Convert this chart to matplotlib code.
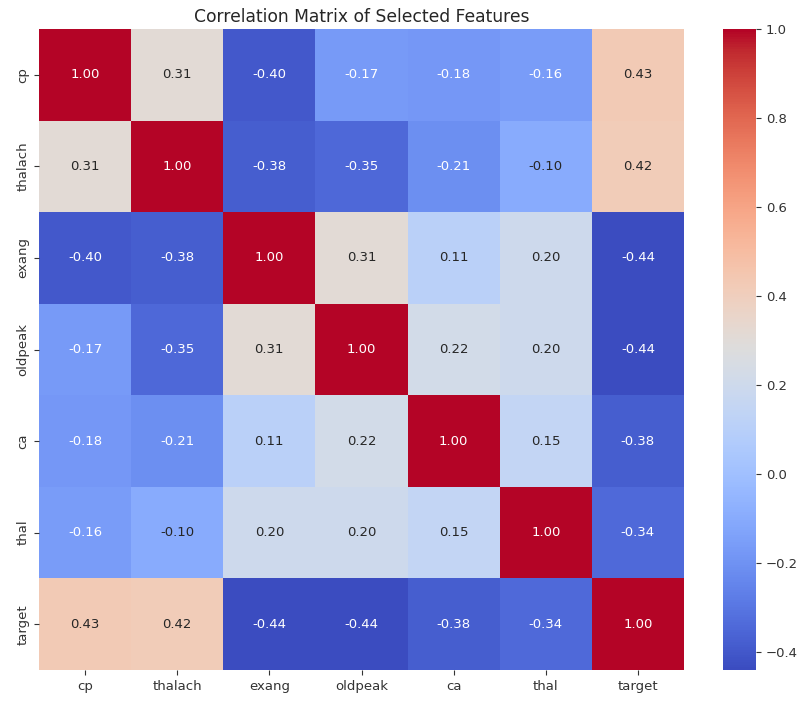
import numpy as np
import pandas as pd
import matplotlib
matplotlib.use("Agg")
import matplotlib.pyplot as plt
import seaborn as sns

features = ["cp", "thalach", "exang", "oldpeak", "ca", "thal", "target"]

corr_cp      = [1.00, 0.31, -0.40, -0.17, -0.18, -0.16, 0.43]
corr_thalach = [0.31, 1.00, -0.38, -0.35, -0.21, -0.10, 0.42]
corr_exang   = [-0.40, -0.38, 1.00, 0.31, 0.11, 0.20, -0.44]
corr_oldpeak = [-0.17, -0.35, 0.31, 1.00, 0.22, 0.20, -0.44]
corr_ca      = [-0.18, -0.21, 0.11, 0.22, 1.00, 0.15, -0.38]
corr_thal    = [-0.16, -0.10, 0.20, 0.20, 0.15, 1.00, -0.34]
corr_target  = [0.43, 0.42, -0.44, -0.44, -0.38, -0.34, 1.00]

corr = pd.DataFrame(
    [corr_cp, corr_thalach, corr_exang, corr_oldpeak, corr_ca, corr_thal, corr_target],
    index=features, columns=features,
)

fig = plt.figure(figsize=(8.01, 7.02), dpi=100)
ax = fig.add_axes([39 / 801, 1 - 670 / 702, 645 / 801, 641 / 702])
cax = fig.add_axes([723 / 801, 1 - 670 / 702, 33 / 801, 641 / 702])

sns.heatmap(
    corr, annot=True, fmt=".2f", cmap="coolwarm",
    vmin=corr.values.min(), vmax=corr.values.max(),
    ax=ax, cbar_ax=cax, annot_kws={"size": 9.5},
)
ax.set_title("Correlation Matrix of Selected Features", fontsize=12.3,
             color="#262626", pad=5)
ax.tick_params(labelsize=9.5, colors="#333333")
cax.tick_params(labelsize=9.5, colors="#333333")
cax.set_yticks([-0.4, -0.2, 0.0, 0.2, 0.4, 0.6, 0.8, 1.0])
for spine in cax.spines.values():
    spine.set_visible(False)

fig.savefig("out.png", dpi=100)
